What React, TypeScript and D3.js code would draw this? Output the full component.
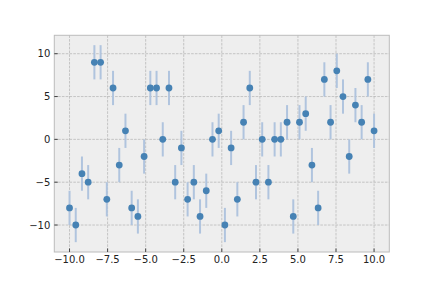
import React from "react";
import * as d3 from "d3";

const xValues: number[] = d3.range(50).map((i) => -10 + (20 * i) / 49);
const yValues: number[] = [
  -8, -10, -4, -5, 9, 9, -7, 6, -3, 1,
  -8, -9, -2, 6, 6, 0, 6, -5, -1, -7,
  -5, -9, -6, 0, 1, -10, -1, -7, 2, 6,
  -5, 0, -5, 0, 0, 2, -9, 2, 3, -3,
  -8, 7, 2, 8, 5, -2, 4, 2, 7, 1,
];
const yErr = 2;
const xTicks: number[] = [-10, -7.5, -5, -2.5, 0, 2.5, 5, 7.5, 10];
const yTicks: number[] = [-10, -5, 0, 5, 10];

const W = 432;
const H = 288;
const left = 54.3;
const right = 389.3;
const top = 35.3;
const bottom = 252;

const fmtX = (v: number) => (v < 0 ? "\u2212" : "") + Math.abs(v).toFixed(1);
const fmtY = (v: number) => (v < 0 ? "\u2212" : "") + Math.abs(v).toString();

export default function App() {
  const x = d3.scaleLinear().domain([-11, 11]).range([left, right]);
  const y = d3.scaleLinear().domain([-13.15, 12.15]).range([bottom, top]);
  const font = "DejaVu Sans, sans-serif";
  return (
    <svg
      width={W}
      height={H}
      style={{ position: "fixed", left: 0, top: 0, background: "#ffffff" }}
    >
      <rect x={left} y={top} width={right - left} height={bottom - top} fill="#eeeeee" />
      <g>
        {xTicks.map((t) => (
          <line
            key={"gx" + t}
            x1={x(t)}
            x2={x(t)}
            y1={top}
            y2={bottom}
            stroke="#b2b2b2"
            strokeWidth={0.7}
            strokeDasharray="2.6,1.2"
          />
        ))}
        {yTicks.map((t) => (
          <line
            key={"gy" + t}
            x1={left}
            x2={right}
            y1={y(t)}
            y2={y(t)}
            stroke="#b2b2b2"
            strokeWidth={0.7}
            strokeDasharray="2.6,1.2"
          />
        ))}
      </g>
      <g>
        {xValues.map((xv, i) => (
          <line
            key={"e" + i}
            x1={x(xv)}
            x2={x(xv)}
            y1={y(yValues[i] - yErr)}
            y2={y(yValues[i] + yErr)}
            stroke="#b0c4de"
            strokeWidth={2}
          />
        ))}
        {xValues.map((xv, i) => (
          <circle key={"p" + i} cx={x(xv)} cy={y(yValues[i])} r={3.4} fill="#4682b4" />
        ))}
      </g>
      <rect
        x={left}
        y={top}
        width={right - left}
        height={bottom - top}
        fill="none"
        stroke="#bcbcbc"
        strokeWidth={1}
      />
      <g>
        {xTicks.map((t) => (
          <g key={"tx" + t}>
            <line x1={x(t)} x2={x(t)} y1={bottom} y2={bottom - 3.5} stroke="#222" strokeWidth={0.8} />
            <text
              x={x(t)}
              y={bottom + 3.5}
              dy="0.76em"
              textAnchor="middle"
              fontFamily={font}
              fontSize={10}
              fill="#222"
            >
              {fmtX(t)}
            </text>
          </g>
        ))}
        {yTicks.map((t) => (
          <g key={"ty" + t}>
            <line x1={left} x2={left + 3.5} y1={y(t)} y2={y(t)} stroke="#222" strokeWidth={0.8} />
            <text
              x={left - 4}
              y={y(t)}
              dy="0.35em"
              textAnchor="end"
              fontFamily={font}
              fontSize={10}
              fill="#222"
            >
              {fmtY(t)}
            </text>
          </g>
        ))}
      </g>
    </svg>
  );
}
